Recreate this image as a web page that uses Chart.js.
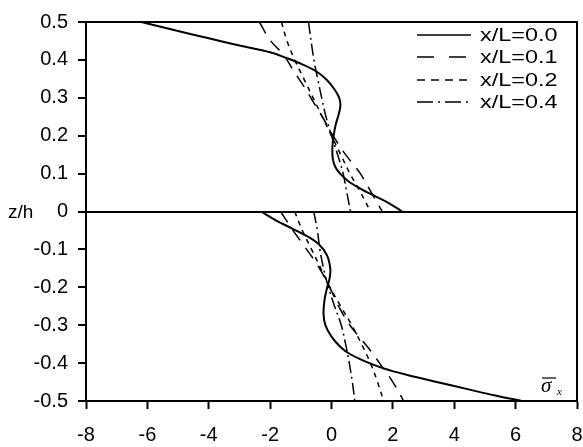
<!DOCTYPE html>
<html>
<head>
<meta charset="utf-8">
<script src="https://cdn.jsdelivr.net/npm/chart.js@4/dist/chart.umd.min.js"></script>
<style>
  html, body { margin: 0; padding: 0; background: #fff; }
  #wrap { width: 583px; height: 447px; }
</style>
</head>
<body>
<div id="wrap"><canvas id="myChart" width="583" height="447"></canvas></div>
<script>
// series labels
var seriesLabels = ["x/L=0.0", "x/L=0.1", "x/L=0.2", "x/L=0.4"];

// [sigma_x, z/h], upper layer then lower layer
var s00Top = [[-6.2,0.5],[-5.0,0.476],[-4.0,0.457],[-3.0,0.438],[-2.0,0.42],[-1.5,0.406],[-1.0,0.39],
  [-0.5,0.37],[-0.15,0.347],[0.1,0.322],[0.25,0.3],[0.29,0.28],[0.24,0.258],[0.14,0.23],[0.07,0.2],
  [0.03,0.17],[0.04,0.14],[0.12,0.118],[0.28,0.1],[0.55,0.08],[0.95,0.06],[1.35,0.043],[1.85,0.023],[2.3,0]];
var s00Bot = [[-2.3,0],[-1.8,-0.024],[-1.28,-0.045],[-0.8,-0.065],[-0.42,-0.086],[-0.15,-0.115],
  [-0.04,-0.15],[-0.06,-0.176],[-0.14,-0.2],[-0.23,-0.235],[-0.26,-0.27],[-0.2,-0.3],[0.0,-0.33],
  [0.3,-0.358],[0.6,-0.376],[1.0,-0.392],[1.7,-0.414],[2.5,-0.432],[3.5,-0.451],[4.5,-0.47],[5.3,-0.485],[6.2,-0.5]];

var s01Top = [[-2.35,0.5],[-2.0,0.452],[-1.55,0.412],[-1.23,0.37],[-0.9,0.33],[-0.6,0.29],[-0.3,0.25],
  [0.05,0.2],[0.46,0.15],[0.94,0.1],[1.3,0.05],[1.65,0]];
var s01Bot = [[-1.66,0],[-1.28,-0.047],[-0.9,-0.09],[-0.55,-0.13],[-0.25,-0.17],[0.0,-0.21],[0.3,-0.26],
  [0.6,-0.3],[1.0,-0.34],[1.3,-0.37],[1.65,-0.41],[2.0,-0.45],[2.35,-0.5]];

var s02Top = [[-1.63,0.5],[-1.45,0.45],[-1.2,0.4],[-0.9,0.35],[-0.6,0.3],[-0.3,0.25],[0.0,0.2],
  [0.3,0.15],[0.6,0.1],[0.95,0.05],[1.27,0]];
var s02Bot = [[-1.2,0],[-0.95,-0.05],[-0.65,-0.1],[-0.35,-0.15],[-0.05,-0.2],[0.3,-0.25],[0.66,-0.3],
  [0.98,-0.35],[1.27,-0.4],[1.5,-0.45],[1.7,-0.5]];

var s04Top = [[-0.75,0.5],[-0.63,0.43],[-0.55,0.39],[-0.45,0.35],[-0.32,0.3],[-0.18,0.25],[0.0,0.2],
  [0.2,0.15],[0.38,0.1],[0.5,0.05],[0.62,0]];
var s04Bot = [[-0.58,0],[-0.46,-0.05],[-0.38,-0.1],[-0.26,-0.15],[-0.1,-0.2],[0.1,-0.25],[0.32,-0.3],
  [0.46,-0.35],[0.58,-0.4],[0.68,-0.45],[0.76,-0.5]];

var xTicks = [-8, -6, -4, -2, 0, 2, 4, 6, 8];

toPoints = (top, bot) => {
  var pts = top.map(p => ({ x: p[0], y: p[1] }));
  pts.push({ x: null, y: null });
  return pts.concat(bot.map(p => ({ x: p[0], y: p[1] })));
};

var frameAndLabels = {
  id: "frameAndLabels",
  afterDraw: chart => {
    var ctx = chart.ctx;
    var a = chart.chartArea;
    ctx.save();
    ctx.strokeStyle = "#000";
    ctx.lineWidth = 2;
    ctx.beginPath();
    ctx.moveTo(a.left, a.top);
    ctx.lineTo(a.right, a.top);
    ctx.lineTo(a.right, a.bottom);
    ctx.stroke();

    // legend
    var rows = [35, 57, 80, 102];
    chart.data.datasets.forEach((ds, i) => {
      ctx.setLineDash(ds.legendDash || []);
      ctx.lineWidth = 1.5;
      ctx.beginPath();
      ctx.moveTo(417, rows[i]);
      ctx.lineTo(471, rows[i]);
      ctx.stroke();
      ctx.setLineDash([]);
      ctx.save();
      ctx.translate(480, rows[i]);
      ctx.scale(1.3, 1);
      ctx.fillStyle = "#000";
      ctx.font = "18px 'Liberation Sans', Arial, sans-serif";
      ctx.textBaseline = "middle";
      ctx.fillText(ds.label, 0, 1);
      ctx.restore();
    });

    // z/h
    ctx.fillStyle = "#000";
    ctx.font = "19px 'Liberation Sans', Arial, sans-serif";
    ctx.textBaseline = "middle";
    ctx.fillText("z/h", 8, chart.scales.y.getPixelForValue(0) + 1);

    // sigma bar x
    ctx.font = "italic 21px 'Liberation Serif', 'DejaVu Serif', serif";
    ctx.textBaseline = "alphabetic";
    ctx.fillText("\u03C3", 541, 392);
    ctx.lineWidth = 1.2;
    ctx.beginPath();
    ctx.moveTo(542, 378);
    ctx.lineTo(556, 378);
    ctx.stroke();
    ctx.font = "italic 11px 'Liberation Serif', 'DejaVu Serif', serif";
    ctx.fillText("x", 557, 395);
    ctx.restore();
  }
};

createChart = () => {
  var ctx = document.getElementById("myChart");
  new Chart(ctx, {
    type: "scatter",
    data: {
      datasets: [
        { label: seriesLabels[0], data: toPoints(s00Top, s00Bot), borderWidth: 2, borderDash: [], legendDash: [] },
        { label: seriesLabels[1], data: toPoints(s01Top, s01Bot), borderWidth: 1.5, borderDash: [13, 9], legendDash: [17, 15] },
        { label: seriesLabels[2], data: toPoints(s02Top, s02Bot), borderWidth: 1.5, borderDash: [5, 5], legendDash: [8, 6] },
        { label: seriesLabels[3], data: toPoints(s04Top, s04Bot), borderWidth: 1.5, borderDash: [12, 4, 2, 4], legendDash: [16, 5, 2, 5] }
      ].map(d => Object.assign(d, {
        showLine: true,
        borderColor: "#000",
        backgroundColor: "#000",
        pointRadius: 0,
        tension: 0.35,
        spanGaps: false,
        fill: false
      }))
    },
    options: {
      responsive: false,
      animation: false,
      layout: { padding: { left: 0, right: 6, top: 20, bottom: 0 } },
      plugins: { legend: { display: false }, tooltip: { enabled: false } },
      scales: {
        x: {
          type: "linear",
          min: -8,
          max: 8,
          afterBuildTicks: s => { s.ticks = xTicks.map(v => ({ value: v })); },
          afterFit: s => { s.height = 46; s.paddingLeft = 0; s.paddingRight = 0; },
          ticks: {
            color: "#000",
            padding: 14,
            font: { family: "'Liberation Sans', Arial, sans-serif", size: 20 }
          },
          grid: { drawOnChartArea: false, tickLength: 8, tickWidth: 2, tickColor: "#000" },
          border: { color: "#000", width: 2 }
        },
        y: {
          type: "linear",
          min: -0.5,
          max: 0.5,
          afterFit: s => { s.width = 86; },
          ticks: {
            stepSize: 0.1,
            color: "#000",
            padding: 10,
            font: { family: "'Liberation Sans', Arial, sans-serif", size: 20 },
            callback: v => {
              var r = Math.round(v * 10) / 10;
              return r === 0 ? "0" : r.toFixed(1);
            }
          },
          grid: {
            color: c => (c.tick && Math.abs(c.tick.value) < 1e-9 ? "#000" : "rgba(0,0,0,0)"),
            lineWidth: 2,
            tickLength: 8,
            tickWidth: 2,
            tickColor: "#000"
          },
          border: { color: "#000", width: 2 }
        }
      }
    },
    plugins: [frameAndLabels]
  });
};

createChart();
</script>
</body>
</html>
